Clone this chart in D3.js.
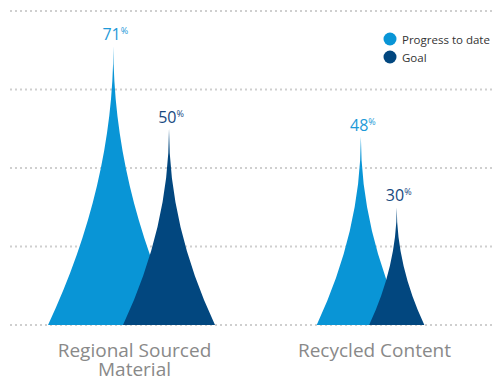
<!DOCTYPE html>
<html><head><meta charset="utf-8">
<script src="https://cdn.jsdelivr.net/npm/d3@7"></script>
<style>body{margin:0;background:#fff;}svg{display:block;}</style>
</head><body>
<svg id="chart" width="495" height="379"></svg>
<script>
const categories = ["Regional Sourced Material", "Recycled Content"];
const categoryLines = [["Regional Sourced", "Material"], ["Recycled Content"]];
const seriesNames = ["Progress to date", "Goal"];
const progress = [71, 48];
const goal = [50, 30];
const gridTicks = [0, 20, 40, 60, 80];
const colors = ["#0995d6", "#02477f"];
const labelColors = ["#1e9ad8", "#17497f"];

const svg = d3.select("#chart");
const font = "'Open Sans', 'Noto Sans', sans-serif";

const y = d3.scaleLinear().domain([0, 80]).range([325, 11]);
const x = d3.scaleBand().domain(categories).range([14.5, 494.5]);
const hw = d3.scaleLinear().domain([0, 80]).range([0, 73.6]);

// grid
svg.append("g").selectAll("line").data(gridTicks).join("line")
  .attr("x1", 10).attr("x2", 495)
  .attr("y1", d => y(d)).attr("y2", d => y(d))
  .attr("stroke", "#cfcfcf").attr("stroke-width", 2)
  .attr("stroke-dasharray", "2 3");

function spike(cx, v) {
  const w = hw(v), b = y(0), t = y(v), m = (b + t) / 2;
  return `M${cx - w},${b} Q${cx},${m} ${cx},${t} Q${cx},${m} ${cx + w},${b} Z`;
}

const items = [];
categories.forEach((c, i) => {
  const S = hw(progress[i]) + hw(goal[i]);
  const cc = x(c) + x.bandwidth() / 2;
  items.push({c, s: 0, v: progress[i], cx: cc - 0.19 * S});
  items.push({c, s: 1, v: goal[i], cx: cc + 0.31 * S});
});

svg.append("g").selectAll("path").data(items).join("path")
  .attr("d", d => spike(d.cx, d.v))
  .attr("fill", d => colors[d.s]);

const lbl = svg.append("g").selectAll("text").data(items).join("text")
  .attr("x", d => d.cx + 2).attr("y", d => y(d.v) - 6)
  .attr("text-anchor", "middle")
  .attr("font-family", font).attr("font-size", 16)
  .attr("fill", d => labelColors[d.s]);
lbl.append("tspan").text(d => d.v);
lbl.append("tspan").text("%").attr("font-size", 9).attr("dy", -6);

// category labels
categories.forEach((c, i) => {
  const t = svg.append("text")
    .attr("x", x(c) + x.bandwidth() / 2).attr("y", 357)
    .attr("text-anchor", "middle")
    .attr("font-family", font).attr("font-size", 19)
    .attr("fill", "#898989");
  categoryLines[i].forEach((ln, j) => {
    t.append("tspan").attr("x", x(c) + x.bandwidth() / 2).attr("dy", j ? 19 : 0).text(ln);
  });
});

// legend
const lg = svg.append("g").selectAll("g").data(seriesNames).join("g")
  .attr("transform", (d, i) => `translate(390,${39 + i * 18})`);
lg.append("circle").attr("r", 6.5).attr("fill", (d, i) => colors[i]);
lg.append("text").attr("x", 12).attr("y", 4.5)
  .attr("font-family", font).attr("font-size", 11.5)
  .attr("fill", "#333").text(d => d);
</script>
</body></html>
